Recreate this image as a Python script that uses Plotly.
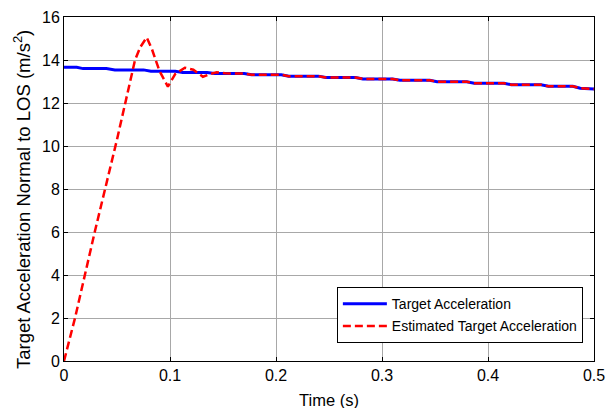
import plotly.graph_objects as go

# Target acceleration (blue, stair-like decay)
t_target = [0.000, 0.012, 0.018, 0.040, 0.048, 0.075, 0.082, 0.105, 0.112, 0.135,
            0.142, 0.170, 0.177, 0.205, 0.212, 0.240, 0.247, 0.275, 0.282, 0.310,
            0.317, 0.345, 0.352, 0.380, 0.387, 0.415, 0.422, 0.450, 0.457, 0.480,
            0.487, 0.500]
a_target = [13.66, 13.66, 13.60, 13.60, 13.54, 13.54, 13.48, 13.48, 13.42, 13.42,
            13.37, 13.37, 13.31, 13.31, 13.25, 13.25, 13.19, 13.19, 13.12, 13.12,
            13.06, 13.06, 12.99, 12.99, 12.92, 12.92, 12.85, 12.85, 12.78, 12.78,
            12.69, 12.65]

# Estimated target acceleration (red dashed) - transient part
t_est_transient = [0.000, 0.0104, 0.029, 0.050, 0.067, 0.072, 0.078, 0.083, 0.090,
                   0.098, 0.105, 0.114, 0.122, 0.131, 0.138, 0.144, 0.152, 0.160]
a_est_transient = [0.0, 2.0, 6.0, 10.3, 14.0, 14.6, 15.05, 14.5, 13.5,
                   12.76, 13.35, 13.64, 13.55, 13.22, 13.35, 13.43, 13.38, 13.37]

x_ticks = [0, 0.1, 0.2, 0.3, 0.4, 0.5]
x_tick_labels = ["0", "0.1", "0.2", "0.3", "0.4", "0.5"]
y_ticks = [0, 2, 4, 6, 8, 10, 12, 14, 16]
y_title = "Target Acceleration Normal to LOS (m/s<sup>2</sup>)"
x_title = "Time (s)"

t_est = t_est_transient + [t for t in t_target if t > t_est_transient[-1]]
a_est = a_est_transient + [a for t, a in zip(t_target, a_target) if t > t_est_transient[-1]]

font_family = "Liberation Sans, Arial, sans-serif"

fig = go.Figure()
fig.add_trace(go.Scatter(x=t_target, y=a_target, mode="lines",
                         name="Target Acceleration", legendgroup="a",
                         line=dict(color="#0000FF", width=3)))
fig.add_trace(go.Scatter(x=t_est, y=a_est, mode="lines",
                         name="Estimated Target Acceleration", legendgroup="b",
                         line=dict(color="#FF0000", width=2.5, dash="8px,4px")))

fig.update_layout(
    width=606, height=408,
    margin=dict(l=64, r=12, t=17, b=47),
    paper_bgcolor="white", plot_bgcolor="white",
    font=dict(family=font_family, color="black"),
    showlegend=True,
    legend=dict(x=0.979, y=0.052, xanchor="right", yanchor="bottom",
                bgcolor="white", bordercolor="black", borderwidth=1,
                font=dict(size=14, family=font_family), tracegroupgap=1,
                itemwidth=44),
    xaxis=dict(range=[0, 0.5], tickvals=x_ticks, ticktext=x_tick_labels,
               showgrid=True, gridcolor="#a8a8a8", gridwidth=1,
               showline=True, linecolor="black", linewidth=1, mirror="allticks",
               ticks="inside", ticklen=4, tickcolor="black",
               tickfont=dict(size=16), zeroline=False, automargin=False),
    yaxis=dict(range=[0, 16], tickvals=y_ticks,
               showgrid=True, gridcolor="#a8a8a8", gridwidth=1,
               showline=True, linecolor="black", linewidth=1, mirror="allticks",
               ticks="inside", ticklen=4, tickcolor="black",
               tickfont=dict(size=16), zeroline=False, automargin=False),
    annotations=[
        dict(text=y_title, xref="paper", yref="paper",
             x=-0.0792, y=0.468, xanchor="center", yanchor="middle",
             textangle=-90, showarrow=False,
             font=dict(size=18.5, family=font_family, color="black")),
        dict(text=x_title, xref="paper", yref="paper",
             x=0.5, y=-0.112, xanchor="center", yanchor="middle",
             showarrow=False,
             font=dict(size=16.5, family=font_family, color="black")),
    ],
)

fig.write_html("out.html", config={"displayModeBar": False})

# remove default page margin so the figure sits at the window's top-left corner
with open("out.html", "r", encoding="utf-8") as f:
    html = f.read()
html = html.replace("<head>", "<head><style>html,body{margin:0;padding:0;overflow:hidden;}</style>", 1)
with open("out.html", "w", encoding="utf-8") as f:
    f.write(html)
